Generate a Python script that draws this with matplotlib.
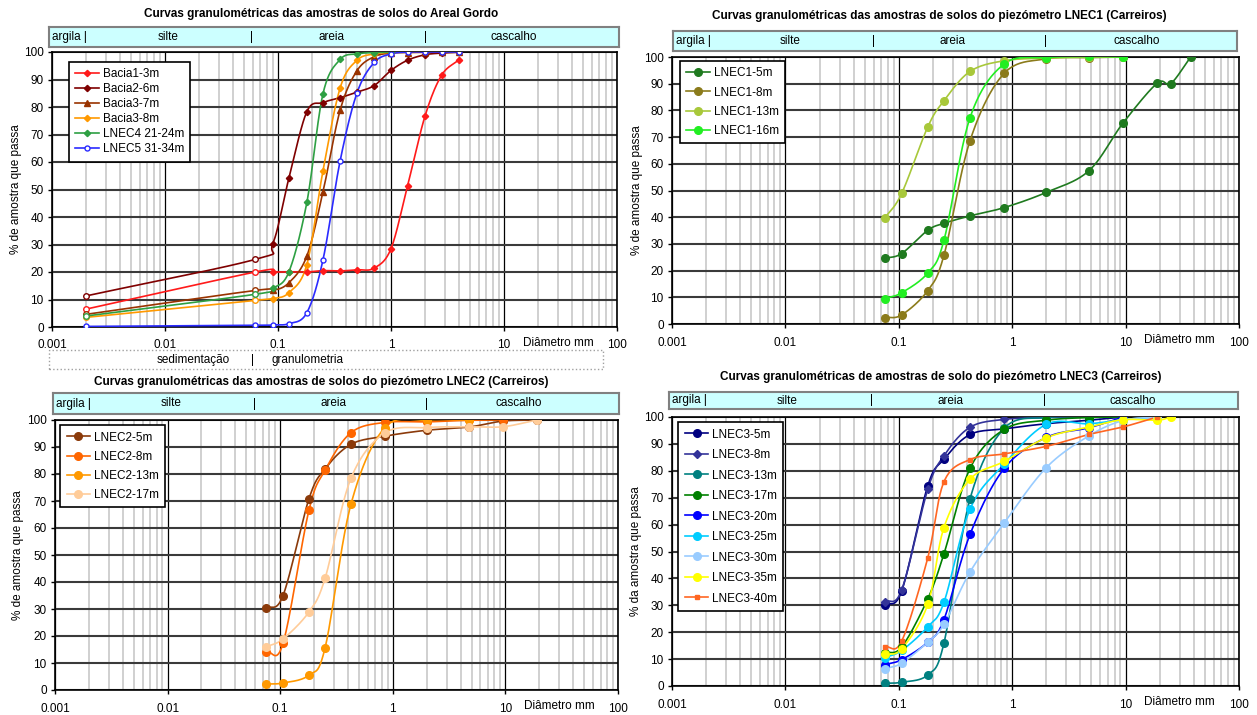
import numpy as np
import matplotlib
matplotlib.use("Agg")
import matplotlib.pyplot as plt
from matplotlib.ticker import LogLocator, FixedLocator, FixedFormatter, NullFormatter
from matplotlib.patches import Rectangle

plt.rcParams['font.family'] = ['Liberation Sans', 'DejaVu Sans']

nan = np.nan

# --- Areal Gordo ---
sieves_ag = [0.002, 0.063, 0.09, 0.125, 0.18, 0.25, 0.355, 0.5, 0.71, 1.0, 1.4, 2.0, 2.8, 4.0]
bacia1_3m = [6.5, 20.0, 20.0, 20.0, 20.0, 20.5, 20.4, 20.8, 21.4, 28.5, 51.3, 76.7, 91.5, 97.2]
bacia2_6m = [11.3, 24.6, 30.3, 54.2, 78.3, 81.6, 83.4, 85.4, 87.8, 93.3, 97.0, 99.0, 99.6, 99.9]
bacia3_7m = [4.6, 13.3, 13.3, 16.1, 25.8, 49.1, 78.9, 93.2, 98.3, 99.6, 99.8, 99.9, 100, 100]
bacia3_8m = [3.5, 9.7, 10.3, 12.5, 22.7, 56.8, 87.0, 97.0, 99.3, 99.9, nan, nan, nan, nan]
lnec4_21_24m = [4.0, 11.9, 14.1, 20.1, 45.3, 84.8, 97.3, 99.3, 99.8, 100, nan, nan, nan, nan]
lnec5_31_34m = [0.2, 0.6, 0.8, 1.2, 5.2, 24.4, 60.5, 85.1, 96.2, 99.3, 100, 100, 100, 100]

# --- LNEC1 ---
sieves_l1 = [0.075, 0.106, 0.18, 0.25, 0.425, 0.85, 2.0, 4.75, 9.5, 19, 25, 37.5]
lnec1_5m = [24.6, 26.4, 35.1, 37.7, 40.5, 43.6, 49.3, 57.4, 75.3, 90.2, 90.0, 100]
lnec1_8m = [2.4, 3.4, 12.5, 25.7, 68.7, 93.9, 99.3, 99.8, 100, nan, nan, nan]
lnec1_13m = [39.6, 48.9, 73.8, 83.6, 94.6, 98.6, 99.6, 99.9, 100, nan, nan, nan]
lnec1_16m = [9.5, 11.7, 19.1, 31.3, 77.3, 97.4, 99.8, 100.2, 100, nan, nan, nan]

# --- LNEC2 ---
sieves_l2 = [0.075, 0.106, 0.18, 0.25, 0.425, 0.85, 2.0, 4.75, 9.5, 19]
lnec2_5m = [30.2, 35.0, 70.8, 81.9, 91.0, 94.0, 96.2, 97.4, 99.6, 100]
lnec2_8m = [14.2, 17.3, 66.6, 81.4, 95.3, 99.1, 99.3, 99.9, 100, nan]
lnec2_13m = [2.2, 2.6, 5.5, 15.5, 68.8, 97.2, 100, 100, nan, nan]
lnec2_17m = [16.0, 18.9, 28.9, 41.3, 78.4, 95.2, 97.2, 97.5, 97.5, 100]

# --- LNEC3 ---
sieves_l3 = [0.075, 0.106, 0.18, 0.25, 0.425, 0.85, 2.0, 4.75, 9.5, 19, 25]
lnec3_5m = [30.2, 35.3, 74.4, 84.3, 93.5, 95.6, 97.5, 98.8, 100, nan, nan]
lnec3_8m = [31.3, 35.7, 73.1, 85.6, 96.2, 99.1, 99.8, 100, 100, nan, nan]
lnec3_13m = [1.0, 1.4, 4.1, 15.9, 69.6, 95.8, 99.8, 100, 100, nan, nan]
lnec3_17m = [12.3, 14.5, 32.4, 49.1, 80.9, 95.4, 98.8, 99.8, 100, nan, nan]
lnec3_20m = [7.9, 9.8, 16.3, 24.7, 56.4, 80.9, 92.4, 96.0, 100, nan, nan]
lnec3_25m = [10.5, 13.2, 22.0, 31.1, 65.8, 82.5, 97.3, 97.5, 99.0, 100, nan]
lnec3_30m = [6.4, 8.5, 16.3, 22.9, 42.4, 60.6, 81.2, 93.0, 98.7, 100, nan]
lnec3_35m = [11.8, 13.8, 30.3, 58.9, 76.9, 83.5, 92.3, 96.3, 99.0, 98.8, 100]
lnec3_40m = [14.6, 16.7, 47.6, 75.9, 84.2, 86.3, 89.1, 93.5, 96.3, 100, nan]

x_ticks = [0.001, 0.01, 0.1, 1, 10, 100]
x_tick_labels = ["0.001", "0.01", "0.1", "1", "10", "100"]

W, H = 1257, 715
FS = 8.5


def smooth(x, y, n=24):
    # Catmull-Rom through points in (log10 x, y), like Excel smoothed lines
    x = np.asarray(x, float)
    y = np.asarray(y, float)
    ok = ~np.isnan(y)
    u, v = np.log10(x[ok]), y[ok]
    if len(u) < 3:
        return 10 ** u, v
    pu = np.concatenate([[2 * u[0] - u[1]], u, [2 * u[-1] - u[-2]]])
    pv = np.concatenate([[2 * v[0] - v[1]], v, [2 * v[-1] - v[-2]]])
    uu, vv = [], []
    t = np.linspace(0, 1, n)
    for i in range(1, len(pu) - 2):
        for p, out in ((pu, uu), (pv, vv)):
            p0, p1, p2, p3 = p[i - 1], p[i], p[i + 1], p[i + 2]
            out.extend(0.5 * (2 * p1 + (-p0 + p2) * t + (2 * p0 - 5 * p1 + 4 * p2 - p3) * t ** 2
                              + (-p0 + 3 * p1 - 3 * p2 + p3) * t ** 3))
    return 10 ** np.array(uu), np.array(vv)


def fig_rect(l, r, t, b):
    return [l / W, 1 - b / H, (r - l) / W, (b - t) / H]


def make_panel(fig, box, hbox, title, tpos, ylabel, ylx, cascalho_x=12):
    ax = fig.add_axes(fig_rect(*box))
    ax.set_xscale('log')
    ax.set_xlim(0.001, 100)
    ax.set_ylim(0, 100)
    ax.xaxis.set_major_locator(FixedLocator(x_ticks))
    ax.xaxis.set_major_formatter(FixedFormatter(x_tick_labels))
    ax.xaxis.set_minor_locator(LogLocator(base=10, subs=np.arange(2, 10)))
    ax.xaxis.set_minor_formatter(NullFormatter())
    ax.set_yticks(range(0, 101, 10))
    ax.tick_params(labelsize=FS, length=3, width=1, pad=3)
    ax.tick_params(axis='x', which='minor', length=0)
    ax.tick_params(axis='x', which='major', pad=6)
    ax.grid(which='minor', axis='x', color='#c4c4c4', lw=1.1)
    ax.grid(which='major', axis='x', color='black', lw=0.9)
    ax.grid(which='major', axis='y', color='#3a3a3a', lw=1.5)
    ax.set_axisbelow(True)
    for s in ax.spines.values():
        s.set_linewidth(1.2)
    ax.text(30, -3.6, 'Diâmetro mm', ha='center', va='top', fontsize=FS)

    hx = fig.add_axes(fig_rect(*hbox))
    hx.set_xscale('log')
    hx.set_xlim(0.001, 100)
    hx.set_ylim(0, 1)
    hx.set_xticks([])
    hx.set_yticks([])
    hx.minorticks_off()
    hx.set_facecolor('#ccffff')
    for s in hx.spines.values():
        s.set_color('#808080')
        s.set_linewidth(1.5)
    hx.text(0.00106, 0.5, 'argila |', ha='left', va='center', fontsize=FS)
    hx.text(0.011, 0.5, 'silte', ha='center', va='center', fontsize=FS)
    hx.text(0.06, 0.5, '|', ha='center', va='center', fontsize=FS)
    hx.text(0.3, 0.5, 'areia', ha='center', va='center', fontsize=FS)
    hx.text(2.0, 0.5, '|', ha='center', va='center', fontsize=FS)
    hx.text(cascalho_x, 0.5, 'cascalho', ha='center', va='center', fontsize=FS)

    fig.text(tpos[0] / W, 1 - tpos[1] / H, title, ha='center', va='center',
             fontsize=FS, fontweight='bold')
    fig.text(ylx / W, 1 - (box[2] + box[3]) / 2 / H, ylabel, rotation=90,
             ha='center', va='center', fontsize=FS)
    return ax


def draw(ax, x, y, color, label, marker='o', ms=5.5, open_first=0, mfc=None):
    sx, sy = smooth(x, y)
    ax.plot(sx, sy, color=color, lw=1.2, zorder=3)
    x = np.asarray(x, float)
    y = np.asarray(y, float)
    ok = ~np.isnan(y)
    xs, ys = x[ok], y[ok]
    face = color if mfc is None else mfc
    ax.plot(xs[open_first:], ys[open_first:], ls='none', marker=marker, ms=ms,
            color=color, mfc=face, mec=color, zorder=4)
    if open_first:
        ax.plot(xs[:open_first], ys[:open_first], ls='none', marker='o', ms=4,
                color=color, mfc='white', mec=color, zorder=4)
    ax.plot([], [], color=color, lw=1.2, marker=marker, ms=ms, mfc=face, mec=color,
            label=label)


def legend(ax, anchor, spacing):
    leg = ax.legend(loc='upper left', bbox_to_anchor=anchor, fontsize=FS,
                    fancybox=False, framealpha=1, edgecolor='black',
                    labelspacing=spacing, handlelength=2.0, borderpad=0.55,
                    handletextpad=0.3, borderaxespad=0)
    leg.get_frame().set_linewidth(1.2)
    leg.set_zorder(10)


fig = plt.figure(figsize=(W / 100, H / 100), dpi=100)

# Panel 1: Areal Gordo
ax1 = make_panel(fig, (52, 617, 52, 327), (49, 619, 27, 47),
                 'Curvas granulométricas das amostras de solos do Areal Gordo',
                 (321, 14), '% de amostra que passa', 16)
draw(ax1, sieves_ag, bacia1_3m, '#ff1a1a', 'Bacia1-3m', 'D', 3.2, open_first=2)
draw(ax1, sieves_ag, bacia2_6m, '#7f0000', 'Bacia2-6m', 'D', 3.2, open_first=2)
draw(ax1, sieves_ag, bacia3_7m, '#993300', 'Bacia3-7m', '^', 4.0, open_first=2)
draw(ax1, sieves_ag, bacia3_8m, '#ff9900', 'Bacia3-8m', 'D', 3.2, open_first=2)
draw(ax1, sieves_ag, lnec4_21_24m, '#2ea043', 'LNEC4 21-24m', 'D', 3.2, open_first=2)
draw(ax1, sieves_ag, lnec5_31_34m, '#2b2bff', 'LNEC5 31-34m', 'o', 3.6, mfc='white')
legend(ax1, (0.03, 0.964), 0.25)

# dotted box under panel 1
fig.patches.append(Rectangle((49 / W, 1 - 369 / H), (603 - 49) / W, 19 / H,
                             transform=fig.transFigure, fill=False, ls=':',
                             ec='#a0a0a0', lw=1))
fig.text(193 / W, 1 - 360 / H, 'sedimentação', ha='center', va='center', fontsize=FS)
fig.text(252 / W, 1 - 360 / H, '|', ha='center', va='center', fontsize=FS)
fig.text(307 / W, 1 - 360 / H, 'granulometria', ha='center', va='center', fontsize=FS)

# Panel 2: LNEC1
ax2 = make_panel(fig, (672, 1239, 57, 324), (673, 1237, 31, 51),
                 'Curvas granulométricas das amostras de solos do piezómetro LNEC1 (Carreiros)',
                 (939, 16), '% de amostra que passa', 637, cascalho_x=13)
draw(ax2, sieves_l1, lnec1_5m, '#1f7a1f', 'LNEC1-5m')
draw(ax2, sieves_l1, lnec1_8m, '#8b7b1b', 'LNEC1-8m')
draw(ax2, sieves_l1, lnec1_13m, '#a8c83a', 'LNEC1-13m')
draw(ax2, sieves_l1, lnec1_16m, '#22ee22', 'LNEC1-16m')
legend(ax2, (0.014, 0.985), 0.6)

# Panel 3: LNEC2
ax3 = make_panel(fig, (55, 618, 420, 690), (53, 619, 393, 414),
                 'Curvas granulométricas das amostras de solos do piezómetro LNEC2 (Carreiros)',
                 (321, 382), '% de amostra que passa', 18, cascalho_x=13)
draw(ax3, sieves_l2, lnec2_5m, '#8b3a0a', 'LNEC2-5m')
draw(ax3, sieves_l2, lnec2_8m, '#ff6600', 'LNEC2-8m')
draw(ax3, sieves_l2, lnec2_13m, '#ff9900', 'LNEC2-13m')
draw(ax3, sieves_l2, lnec2_17m, '#ffcc99', 'LNEC2-17m')
legend(ax3, (0.009, 0.981), 0.6)

# Panel 4: LNEC3
ax4 = make_panel(fig, (672, 1239, 417, 686), (669, 1238, 392, 409),
                 'Curvas granulométricas de amostras de solo do piezómetro LNEC3 (Carreiros)',
                 (941, 377), '% da amostra que passa', 636, cascalho_x=12)
draw(ax4, sieves_l3, lnec3_5m, '#000080', 'LNEC3-5m')
draw(ax4, sieves_l3, lnec3_8m, '#333399', 'LNEC3-8m', 'D', 4.5)
draw(ax4, sieves_l3, lnec3_13m, '#008080', 'LNEC3-13m')
draw(ax4, sieves_l3, lnec3_17m, '#008000', 'LNEC3-17m')
draw(ax4, sieves_l3, lnec3_20m, '#0000ff', 'LNEC3-20m')
draw(ax4, sieves_l3, lnec3_25m, '#00ccff', 'LNEC3-25m')
draw(ax4, sieves_l3, lnec3_30m, '#99ccff', 'LNEC3-30m')
draw(ax4, sieves_l3, lnec3_35m, '#ffff00', 'LNEC3-35m')
draw(ax4, sieves_l3, lnec3_40m, '#ff6622', 'LNEC3-40m', 's', 2.5)
legend(ax4, (0.011, 0.981), 0.72)

fig.savefig('out.png', dpi=100)
